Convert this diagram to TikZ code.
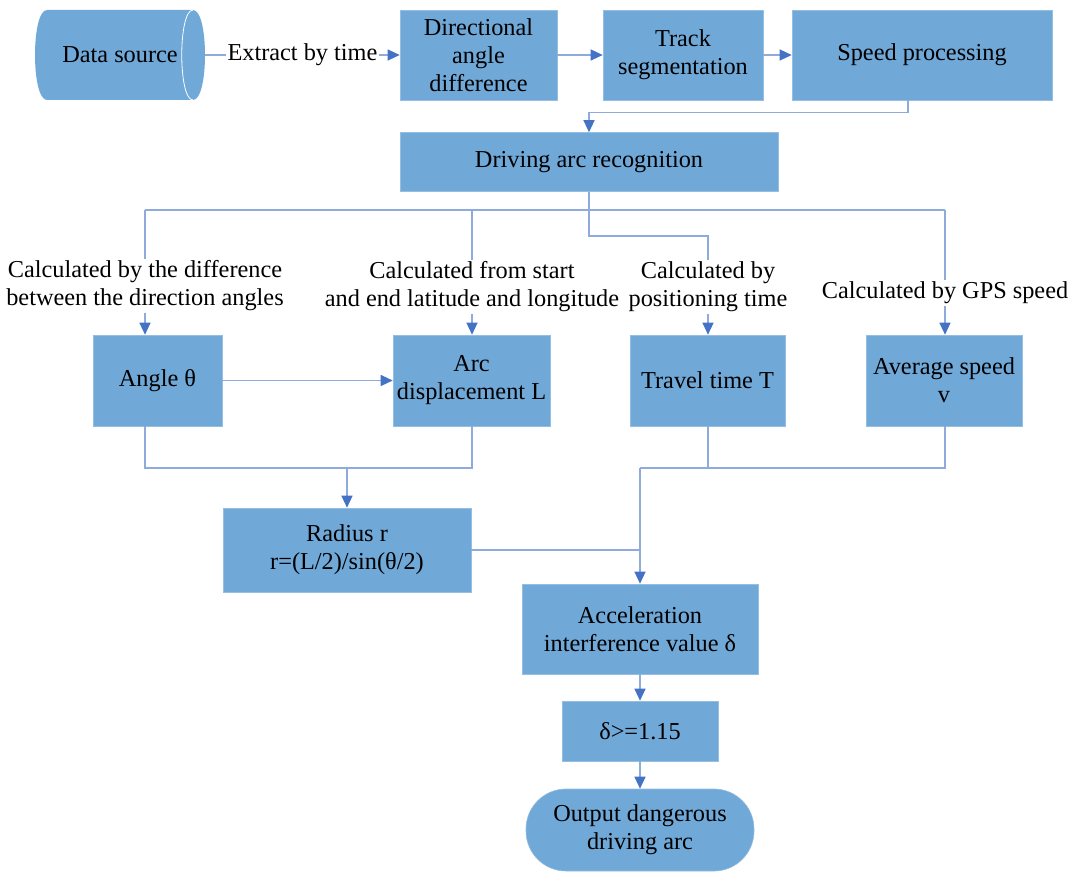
\documentclass[tikz,border=0pt]{standalone}
\usepackage{fontspec}
\setmainfont{Liberation Serif}
\usetikzlibrary{arrows.meta,calc}
\definecolor{boxc}{RGB}{112,168,216}
\definecolor{linec}{RGB}{143,170,220}
\definecolor{tipc}{RGB}{68,114,196}
\begin{document}
\begin{tikzpicture}[x=1pt,y=-1pt,
  txt/.style={font=\fontsize{24.3}{28}\selectfont, align=center},
  box/.style={txt, rectangle, fill=boxc, draw=boxc!75!white, line width=0.6pt, inner sep=1pt},
  lab/.style={txt, fill=white, inner sep=1.5pt},
  conn/.style={draw=linec, line width=1.2pt},
  arr/.style={conn, -{Triangle[length=12pt,width=11pt,fill=tipc,color=tipc]}},
]
\useasboundingbox (0,0) rectangle (1075,872);

% data source cylinder
\fill[boxc] (47,10) -- (193,10) .. controls (209,10) and (209,100) .. (193,100)
  -- (47,100) .. controls (31,100) and (31,10) .. (47,10) -- cycle;
\draw[white, line width=0.8pt] (193,10) .. controls (178,10) and (178,100) .. (193,100);
\node[txt, minimum width=170pt, minimum height=90pt, inner sep=0pt] (src) at (120,55) {Data source};

% top row
\node[box, minimum width=157pt, minimum height=90pt] (dir) at (478.5,55) {Directional\\angle\\difference};
\node[box, minimum width=160pt, minimum height=90pt] (track) at (683,55) {Track\\segmentation};
\node[box, minimum width=260pt, minimum height=90pt] (speed) at (922,55) {Speed processing};

\node[box, minimum width=378pt, minimum height=59pt] (drive) at (589,162) {Driving arc recognition};

% labels
\node[lab] (l1) at (145,286) {Calculated by the difference\\between the direction angles};
\node[lab] (l2) at (472,287) {Calculated from start\\and end latitude and longitude};
\node[lab] (l3) at (708,287) {Calculated by\\positioning time};
\node[lab] (l4) at (945,293) {Calculated by GPS speed};

% third row
\node[box, minimum width=129pt, minimum height=91pt] (angle) at (157.5,380.5) {Angle θ};
\node[box, minimum width=157pt, minimum height=91pt] (arc) at (471.5,380.5) {Arc\\displacement L};
\node[box, minimum width=155pt, minimum height=91pt] (travel) at (707.5,380.5) {Travel time T};
\node[box, minimum width=156pt, minimum height=91pt] (avg) at (944,380.5) {Average speed\\v};

\node[box, minimum width=248pt, minimum height=84pt] (radius) at (347,550) {Radius r\\r=(L/2)/sin(θ/2)};
\node[box, minimum width=236pt, minimum height=90pt] (accel) at (640,629) {Acceleration\\interference value δ};
\node[box, minimum width=156pt, minimum height=60pt] (delta) at (640,731) {δ>=1.15};
\node[box, minimum width=228pt, minimum height=82pt, rounded corners=40pt] (out) at (640,830) {Output dangerous\\driving arc};

% junction coordinates
\coordinate (bL) at (145,210);
\coordinate (bR) at (945,210);
\coordinate (j1) at (145,468);
\coordinate (j2) at (472,468);
\coordinate (jm) at (347,468);
\coordinate (k1) at (708,468);
\coordinate (k2) at (945,468);
\coordinate (kv) at (640,468);
\coordinate (kr) at (640,550);

% connectors
\draw[arr] (src.east) -- node[lab]{Extract by time} (dir.west);
\draw[arr] (dir.east) -- (track.west);
\draw[arr] (track.east) -- (speed.west);
\draw[arr] ($(speed.south)+(-14,0)$) -- ++(0,12) -| (drive.north);

\draw[conn] (bL) -- (bR);
\draw[conn] (drive.south) -- (589,236) -| (l3.north);
\draw[conn] (bL) -- (l1.north);
\draw[conn] (472,210) -- (l2.north);
\draw[conn] (bR) -- (l4.north);

\draw[arr] (l1.south) -- (l1.south |- angle.north);
\draw[arr] (l2.south) -- (l2.south |- arc.north);
\draw[arr] (l3.south) -- (l3.south |- travel.north);
\draw[arr] (l4.south) -- (l4.south |- avg.north);

\draw[arr] (angle.east) -- (arc.west);
\draw[conn] (j1 |- angle.south) -- (j1) -- (j2) -- (j2 |- arc.south);
\draw[arr] (jm) -- (radius.north);

\draw[conn] (k1 |- travel.south) -- (k1) -- (k2) -- (k2 |- avg.south);
\draw[conn] (kv) -- (k1);
\draw[conn] (radius.east |- kr) -- (kr);
\draw[arr] (kv) -- (accel.north);

\draw[arr] (accel.south) -- (delta.north);
\draw[arr] (delta.south) -- (out.north);
\end{tikzpicture}
\end{document}
